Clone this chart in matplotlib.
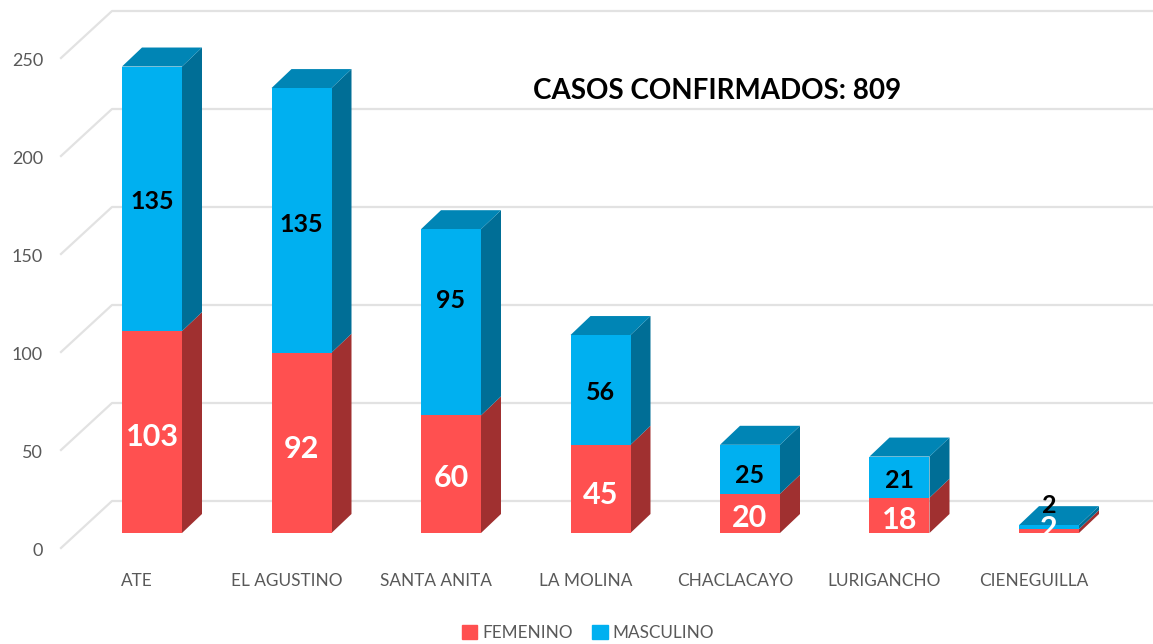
import matplotlib
matplotlib.use('Agg')
import matplotlib.pyplot as plt
from matplotlib.patches import Polygon, Patch

plt.rcParams['font.family'] = ['Lato', 'DejaVu Sans']

districts = ['ATE', 'EL AGUSTINO', 'SANTA ANITA', 'LA MOLINA', 'CHACLACAYO', 'LURIGANCHO', 'CIENEGUILLA']
femenino = [103, 92, 60, 45, 20, 18, 2]
masculino = [135, 135, 95, 56, 25, 21, 2]
y_ticks = [0, 50, 100, 150, 200, 250]
title = 'CASOS CONFIRMADOS: 809'

W, H = 1153, 644
PX_X = 149.5  # px per category
PX_Y = 1.96   # px per case
X0, Y0 = 152, 533  # pixel of first bar centre / bar base

# label nudges in px, labels do not sit exactly mid segment
nudge_f = [-3, -4, -2, -4, -3, -3, 0]
nudge_m = [-3, -4, 22, -3, -6, -3, 0]

RED, RED_SIDE = '#FF5050', '#A03030'
BLUE, BLUE_SIDE, BLUE_TOP = '#00B0F0', '#006E96', '#0085B5'
GRID = '#E2E2E2'
GREY = '#595959'

fig = plt.figure(figsize=(W / 100, H / 100), dpi=100)
ax = fig.add_axes([0, 0, 1, 1])
ax.set_xlim(-X0 / PX_X, (W - X0) / PX_X)
ax.set_ylim(-(H - Y0) / PX_Y, Y0 / PX_Y)
ax.axis('off')

width = 60 / PX_X
dx = 20 / PX_X   # depth of the fake 3d
dy = 19 / PX_Y

# back wall and floor lines
for v in y_ticks:
    back = v + 32 / PX_Y
    front = v - 15 / PX_Y
    ax.plot([(61 - X0) / PX_X, (112 - X0) / PX_X, (W - X0) / PX_X], [front, back, back],
            color=GRID, lw=1.6, zorder=1)
    ax.text((43 - X0) / PX_X, front - 3 / PX_Y, str(v), ha='right', va='center',
            fontsize=13, color=GREY)

xs = list(range(len(districts)))
ax.bar(xs, femenino, width=width, color=RED, zorder=3)
ax.bar(xs, masculino, width=width, bottom=femenino, color=BLUE, zorder=3)

for x, f, m in zip(xs, femenino, masculino):
    r = x + width / 2
    l = x - width / 2
    t = f + m
    ax.add_patch(Polygon([(r, 0), (r + dx, dy), (r + dx, f + dy), (r, f)], color=RED_SIDE, lw=0, zorder=2))
    ax.add_patch(Polygon([(r, f), (r + dx, f + dy), (r + dx, t + dy), (r, t)], color=BLUE_SIDE, lw=0, zorder=2))
    ax.add_patch(Polygon([(l, t), (l + dx, t + dy), (r + dx, t + dy), (r, t)], color=BLUE_TOP, lw=0, zorder=2))

    # the smallest bar has its labels pushed apart
    if f < 5:
        y_f, y_m = f / 2 + 1, f + m / 2 + 11
    else:
        y_f, y_m = f / 2 - 1, f + m / 2
    y_f += nudge_f[x] / PX_Y
    y_m += nudge_m[x] / PX_Y
    ax.text(x, y_f, str(f), ha='center', va='center', fontsize=22, fontweight='bold', color='white', zorder=4)
    ax.text(x, y_m, str(m), ha='center', va='center', fontsize=18, fontweight='bold', color='black', zorder=5)
    ax.text(x - 15 / PX_X, -48 / PX_Y, districts[x], ha='center', va='center',
            fontsize=12.4, color=GREY)

ax.text((717 - X0) / PX_X, (Y0 - 91) / PX_Y, title, ha='center', va='center',
        fontsize=20, fontweight='bold', color='black')

handles = [Patch(color=RED, label='FEMENINO'), Patch(color=BLUE, label='MASCULINO')]
ax.legend(handles=handles, ncol=2, loc='center', bbox_to_anchor=(588 / W, 1 - 633 / H),
          frameon=False, labelcolor=GREY, handlelength=0.9, handleheight=0.9,
          handletextpad=0.3, columnspacing=1.15, borderpad=0, fontsize=12.3)

fig.savefig('out.png', dpi=100)
plt.close()
